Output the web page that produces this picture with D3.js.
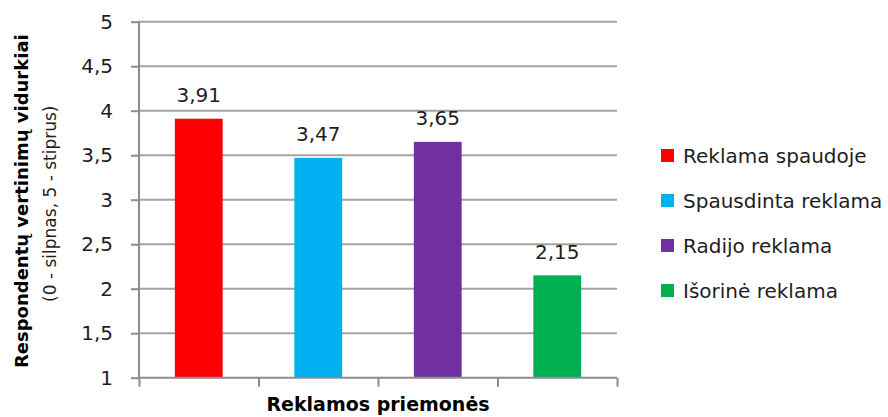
<!DOCTYPE html>
<html>
<head>
<meta charset="utf-8">
<script src="https://cdn.jsdelivr.net/npm/d3@7.9.0/dist/d3.min.js"></script>
<style>
  body { margin: 0; background: #fff; }
  svg { display: block; font-family: "DejaVu Sans", Verdana, sans-serif; }
</style>
</head>
<body>
<svg width="888" height="417"></svg>
<script>
const categories = ['Reklama spaudoje', 'Spausdinta reklama', 'Radijo reklama', 'Išorinė reklama'];
const values = [3.91, 3.47, 3.65, 2.15];
const colors = ['#ff0000', '#00b0f0', '#7030a0', '#00b050'];
const yTicks = [1, 1.5, 2, 2.5, 3, 3.5, 4, 4.5, 5];

const svg = d3.select('svg');
const plotLeft = 139, plotRight = 617, plotTop = 21.7, plotBottom = 377.7;
const textColor = '#1e1e1e';

const fmt = d => String(d).replace('.', ',');

const x = d3.scaleBand()
  .domain(categories)
  .range([plotLeft, plotRight])
  .paddingInner(0.6)
  .paddingOuter(0.3);

const y = d3.scaleLinear().domain([1, 5]).range([plotBottom, plotTop]);

// gridlines
svg.append('g')
  .selectAll('line')
  .data(yTicks.slice(1))
  .join('line')
  .attr('x1', plotLeft)
  .attr('x2', plotRight)
  .attr('y1', d => y(d))
  .attr('y2', d => y(d))
  .attr('stroke', '#a3a3a3')
  .attr('stroke-width', 2);

// bars
svg.append('g')
  .selectAll('rect')
  .data(values)
  .join('rect')
  .attr('x', (d, i) => x(categories[i]))
  .attr('width', x.bandwidth())
  .attr('y', d => y(d))
  .attr('height', d => y(1) - y(d))
  .attr('fill', (d, i) => colors[i]);

// value labels
svg.append('g')
  .selectAll('text')
  .data(values)
  .join('text')
  .attr('x', (d, i) => x(categories[i]) + x.bandwidth() / 2)
  .attr('y', d => y(d) - 16.5)
  .attr('text-anchor', 'middle')
  .attr('font-size', 20)
  .attr('fill', textColor)
  .text(d => fmt(d));

// y axis
const yAxis = svg.append('g')
  .attr('transform', `translate(${plotLeft},0)`)
  .call(d3.axisLeft(y).tickValues(yTicks).tickFormat(fmt).tickSize(8).tickPadding(18));

// x axis: ticks at band boundaries
const xEdges = d3.scaleLinear().domain([0, categories.length]).range([plotLeft, plotRight]);
const xAxis = svg.append('g')
  .attr('transform', `translate(0,${plotBottom})`)
  .call(d3.axisBottom(xEdges).tickValues(d3.range(categories.length + 1)).tickFormat('').tickSize(9));

[yAxis, xAxis].forEach(g => {
  g.select('.domain').attr('stroke', '#8c8c8c').attr('stroke-width', 2);
  g.selectAll('.tick line').attr('stroke', '#8c8c8c').attr('stroke-width', 2);
});
xAxis.select('.domain').attr('d', `M${plotLeft},0H${plotRight}`);
yAxis.select('.domain').attr('d', `M0,${plotBottom}V${plotTop}`);
yAxis.selectAll('.tick text')
  .attr('font-size', 20)
  .attr('font-family', '"DejaVu Sans", Verdana, sans-serif')
  .attr('fill', textColor);

// axis titles
const midY = (plotTop + plotBottom) / 2;
svg.append('text')
  .attr('transform', `translate(28,${midY + 1.5}) rotate(-90)`)
  .attr('text-anchor', 'middle')
  .attr('font-size', 18)
  .attr('font-weight', 'bold')
  .attr('fill', '#000')
  .text('Respondentų vertinimų vidurkiai');

svg.append('text')
  .attr('transform', `translate(56,${midY + 4}) rotate(-90)`)
  .attr('text-anchor', 'middle')
  .attr('font-size', 17)
  .attr('fill', textColor)
  .text('(0 - silpnas, 5 - stiprus)');

svg.append('text')
  .attr('x', (plotLeft + plotRight) / 2)
  .attr('y', 411)
  .attr('text-anchor', 'middle')
  .attr('font-size', 19)
  .attr('font-weight', 'bold')
  .attr('fill', '#000')
  .text('Reklamos priemonės');

// legend
const legend = svg.append('g')
  .selectAll('g')
  .data(categories)
  .join('g')
  .attr('transform', (d, i) => `translate(661,${163 + i * 45})`);

legend.append('rect')
  .attr('y', -14)
  .attr('width', 13)
  .attr('height', 13)
  .attr('fill', (d, i) => colors[i]);

legend.append('text')
  .attr('x', 22)
  .attr('font-size', 20)
  .attr('fill', textColor)
  .text(d => d);
</script>
</body>
</html>
